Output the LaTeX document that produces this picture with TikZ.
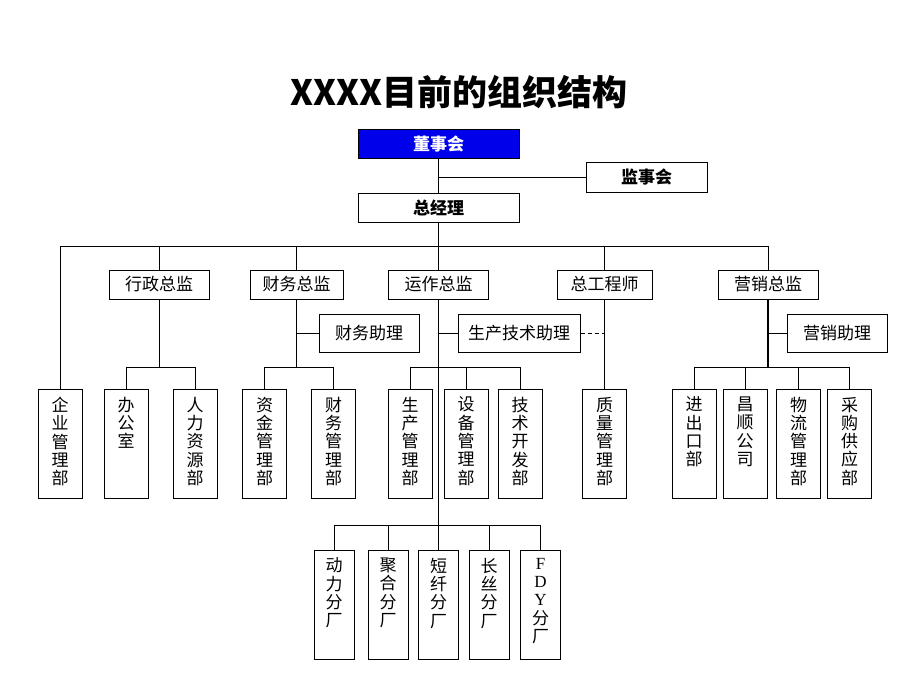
\documentclass[tikz,border=0pt]{standalone}
\usepackage{fontspec}
\setmainfont{Liberation Serif}
\newfontfamily\cjk{Noto Sans CJK SC}
\definecolor{boardblue}{RGB}{0,0,235}
\newcommand\vlabel[1]{\parbox[c][93pt][t]{24pt}{\centering #1}}

\begin{document}
\begin{tikzpicture}[
    x=1pt, y=-1pt,
    every node/.style={font=\cjk\fontsize{17}{18.3}\selectfont, inner sep=0pt},
    box/.style={draw, line width=1pt, minimum height=29pt},
    topbox/.style={box, font=\cjk\bfseries\fontsize{17}{20}\selectfont},
    asst/.style={box, minimum width=100pt, minimum height=38pt},
    dept/.style={draw, line width=1pt, minimum width=44pt, minimum height=109pt},
    plant/.style={dept, minimum width=40pt},
    normal line/.style={line width=1pt},
    main line/.style={line width=1.8pt},
]
\useasboundingbox (0,0) rectangle (920,690);

\node[font=\cjk\bfseries\fontsize{35}{38}\selectfont] (title) at (459,92) {XXXX目前的组织结构};

% board and general manager
\node[topbox, minimum width=161pt, fill=boardblue, text=white] (m-1-1) at (438.5,144) {董事会};
\node[topbox, minimum width=121pt, minimum height=30pt] (m-1-2) at (646.5,177) {监事会};
\node[topbox, minimum width=161pt] (m-2-1) at (438.5,207.5) {总经理};

% directors
\node[box, minimum width=100pt] (m-3-1) at (159,284.5) {行政总监};
\node[box, minimum width=93pt] (m-3-2) at (296.5,284.5) {财务总监};
\node[box, minimum width=100pt] (m-3-3) at (438.5,284.5) {运作总监};
\node[box, minimum width=95pt] (m-3-4) at (604.5,284.5) {总工程师};
\node[box, minimum width=100pt] (m-3-5) at (768,284.5) {营销总监};

\node[asst] (asst-2) at (369,333) {财务助理};
\node[asst, minimum width=122pt] (asst-3) at (519,333) {生产技术助理};
\node[asst] (asst-5) at (837,333) {营销助理};

% departments
\node[dept] (m-4-1) at (60,443.5) {\vlabel{企\\业\\管\\理\\部}};
\node[dept] (m-4-2) at (126,443.5) {\vlabel{办\\公\\室}};
\node[dept] (m-4-3) at (195,443.5) {\vlabel{人\\力\\资\\源\\部}};
\node[dept] (m-4-4) at (264.5,443.5) {\vlabel{资\\金\\管\\理\\部}};
\node[dept] (m-4-5) at (333.5,443.5) {\vlabel{财\\务\\管\\理\\部}};
\node[dept] (m-4-6) at (410,443.5) {\vlabel{生\\产\\管\\理\\部}};
\node[dept] (m-4-7) at (466,443.5) {\vlabel{设\\备\\管\\理\\部}};
\node[dept] (m-4-8) at (520,443.5) {\vlabel{技\\术\\开\\发\\部}};
\node[dept] (m-4-9) at (604.5,443.5) {\vlabel{质\\量\\管\\理\\部}};
\node[dept] (m-4-10) at (694,443.5) {\vlabel{进\\出\\口\\部}};
\node[dept] (m-4-11) at (745,443.5) {\vlabel{昌\\顺\\公\\司}};
\node[dept] (m-4-12) at (798.5,443.5) {\vlabel{物\\流\\管\\理\\部}};
\node[dept] (m-4-13) at (849.5,443.5) {\vlabel{采\\购\\供\\应\\部}};

% plants
\node[plant] (m-5-1) at (334,604.5) {\vlabel{动\\力\\分\\厂}};
\node[plant] (m-5-2) at (388,604.5) {\vlabel{聚\\合\\分\\厂}};
\node[plant] (m-5-3) at (438.5,604.5) {\vlabel{短\\纤\\分\\厂}};
\node[plant] (m-5-4) at (489,604.5) {\vlabel{长\\丝\\分\\厂}};
\node[plant] (m-5-5) at (540.5,604.5) {\vlabel{{\rmfamily F}\\{\rmfamily D}\\{\rmfamily Y}\\分\\厂}};

\coordinate (jsh-join) at (438.5,177);
\coordinate (bus-1) at (438.5,246);
\coordinate (bus-3-1) at (159,367);
\coordinate (bus-3-2) at (296.5,367);
\coordinate (join-3-2) at (296.5,333);
\coordinate (bus-3-3) at (438.5,367);
\coordinate (join-3-3) at (438.5,333);
\coordinate (join-3-4) at (604.5,333);
\coordinate (bus-3-5) at (768,367);
\coordinate (join-3-5) at (768,333);
\coordinate (bus-5) at (438.5,525);

\path[normal line]
    (m-1-1) edge (m-2-1)
    (jsh-join) edge (m-1-2)
    (m-2-1) edge (bus-1)
    (bus-1) edge (m-3-3)
    (m-3-1) edge (bus-3-1)
    (m-3-2) edge (bus-3-2)
    (join-3-2) edge (asst-2)
    (join-3-3) edge (asst-3)
    (m-3-4) edge (m-4-9)
    (join-3-5) edge (asst-5)
    (bus-5) edge (m-5-3)
;
\draw[normal line] (bus-1) -| (m-4-1.north);
\draw[normal line] (bus-1) -| (m-3-1.north);
\draw[normal line] (bus-1) -| (m-3-2.north);
\draw[normal line] (bus-1) -| (m-3-4.north);
\draw[normal line] (bus-1) -| (m-3-5.north);
\draw[normal line] (bus-3-1) -| (m-4-2.north);
\draw[normal line] (bus-3-1) -| (m-4-3.north);
\draw[normal line] (bus-3-2) -| (m-4-4.north);
\draw[normal line] (bus-3-2) -| (m-4-5.north);
\draw[normal line] (bus-3-3) -| (m-4-6.north);
\draw[normal line] (bus-3-3) -| (m-4-7.north);
\draw[normal line] (bus-3-3) -| (m-4-8.north);
\draw[normal line] (bus-3-5) -| (m-4-10.north);
\draw[normal line] (bus-3-5) -| (m-4-11.north);
\draw[normal line] (bus-3-5) -| (m-4-12.north);
\draw[normal line] (bus-3-5) -| (m-4-13.north);
\draw[normal line] (bus-5) -| (m-5-1.north);
\draw[normal line] (bus-5) -| (m-5-2.north);
\draw[normal line] (bus-5) -| (m-5-4.north);
\draw[normal line] (bus-5) -| (m-5-5.north);
\draw[main line] (m-3-3) -- (bus-5);
\draw[main line] (m-3-5) -- (bus-3-5);
\draw[normal line, dash pattern=on 4pt off 3pt] (asst-3) -- (join-3-4);
\end{tikzpicture}
\end{document}
